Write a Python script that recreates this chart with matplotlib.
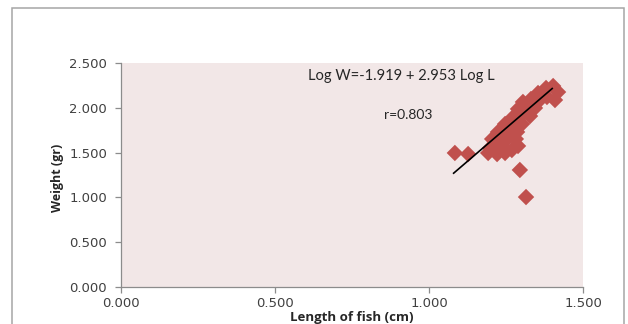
import matplotlib
matplotlib.use("Agg")
import matplotlib.pyplot as plt
from matplotlib.patches import Rectangle
import numpy as np

# log length (x) and log weight (y) of the sampled fish
log_length = [1.084, 1.127, 1.295, 1.315, 1.192, 1.221, 1.247, 1.269, 1.289,
              1.198, 1.214, 1.247, 1.282, 1.224, 1.256, 1.286, 1.247, 1.279,
              1.302, 1.273, 1.302, 1.328, 1.289, 1.318, 1.344, 1.305, 1.331,
              1.360, 1.354, 1.380, 1.403, 1.419, 1.409, 1.383,
              1.240, 1.231, 1.263, 1.205]
log_weight = [1.496, 1.484, 1.306, 1.004, 1.496, 1.484, 1.496, 1.529, 1.574,
              1.551, 1.618, 1.629, 1.652, 1.730, 1.719, 1.730, 1.819, 1.808,
              1.819, 1.897, 1.920, 1.908, 1.987, 2.009, 1.998, 2.065, 2.098,
              2.087, 2.165, 2.221, 2.243, 2.176, 2.087, 2.121,
              1.563, 1.674, 1.786, 1.652]

# regression: Log W = a + b Log L
intercept = -1.919
slope = 2.953
r_value = 0.803
fit_range = [1.08, 1.40]

x_ticks = [0.0, 0.5, 1.0, 1.5]
y_ticks = [0.0, 0.5, 1.0, 1.5, 2.0, 2.5]

fig = plt.figure(figsize=(6.28, 3.24), dpi=100)
fig.patch.set_facecolor("white")

# chart frame
frame = Rectangle((12 / 628, -0.2), (624 - 12) / 628, 1.2 - 7.5 / 324,
                  transform=fig.transFigure, fill=False,
                  edgecolor="#a6a6a6", linewidth=1.1, zorder=0)
fig.patches.append(frame)

ax = fig.add_axes([121 / 628, 1 - 287 / 324, (583 - 121) / 628, (287 - 63) / 324])
ax.set_facecolor("#f2e7e7")

ax.scatter(log_length, log_weight, marker="D", s=70, color="#c0504d",
           edgecolors="none", zorder=3)

fx = np.array(fit_range)
ax.plot(fx, intercept + slope * fx, color="black", linewidth=1.2, zorder=4)

ax.text(0.909, 2.355,
        f"Log W={intercept:.3f} + {slope:.3f} Log L",
        ha="center", va="center", fontsize=10.6, family="Lato", color="#262626")
ax.text(0.932, 1.92, f"r={r_value:.3f}", ha="center", va="center",
        fontsize=10, family="Lato", color="#262626")

ax.set_xlim(0, 1.5)
ax.set_ylim(0, 2.5)
ax.set_xticks(x_ticks)
ax.set_yticks(y_ticks)
ax.set_xticklabels([f"{v:.3f}" for v in x_ticks])
ax.set_yticklabels([f"{v:.3f}" for v in y_ticks])

for side in ("top", "right"):
    ax.spines[side].set_visible(False)
for side in ("left", "bottom"):
    ax.spines[side].set_color("#8c8c8c")
    ax.spines[side].set_linewidth(0.9)

ax.tick_params(axis="both", direction="out", length=4, width=0.9,
               color="#8c8c8c", labelsize=9.5, labelcolor="#404040")
ax.tick_params(axis="x", pad=3)
ax.tick_params(axis="y", pad=6)

ax.set_xlabel("Length of fish (cm)", fontsize=9.5, fontweight="bold",
              family="Open Sans", color="#262626")
ax.xaxis.label.set_va("center")
ax.xaxis.set_label_coords(0.5, (287 - 317) / 224)

ax.set_ylabel("Weight (gr)", fontsize=9, fontweight="bold",
              family="Open Sans", color="#262626")
ax.yaxis.label.set_va("center")
ax.yaxis.set_label_coords((57 - 121) / 462, (287 - 178) / 224)

fig.savefig("out.png", dpi=100)
